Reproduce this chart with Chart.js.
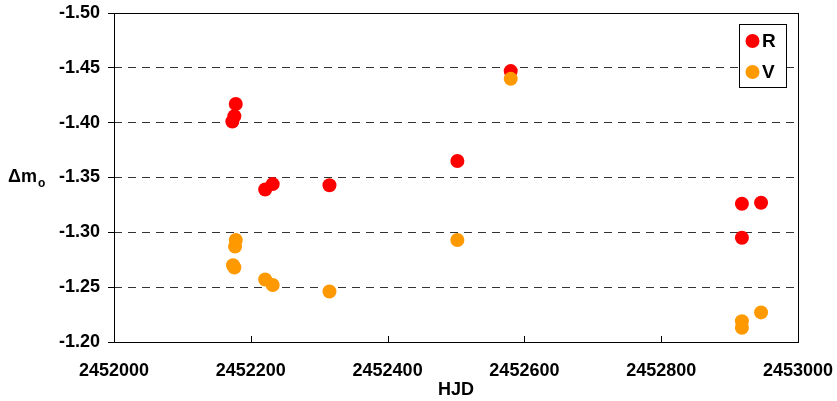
<!DOCTYPE html>
<html>
<head>
<meta charset="utf-8">
<script src="https://cdn.jsdelivr.net/npm/chart.js@4/dist/chart.umd.min.js"></script>
<style>
  html, body { margin: 0; padding: 0; background: #fff; }
  canvas { display: block; }
</style>
</head>
<body>
<canvas id="myChart" width="837" height="401"></canvas>
<script>
// HJD and magnitude for each band
const hjdR = [2452173, 2452176, 2452178, 2452221, 2452232, 2452315, 2452502, 2452580, 2452918, 2452946, 2452918];
const magR = [-1.401, -1.406, -1.417, -1.339, -1.344, -1.343, -1.365, -1.447, -1.326, -1.327, -1.295];
const hjdV = [2452174, 2452176, 2452177, 2452178, 2452221, 2452232, 2452315, 2452502, 2452580, 2452918, 2452918, 2452946];
const magV = [-1.270, -1.268, -1.287, -1.293, -1.257, -1.252, -1.246, -1.293, -1.440, -1.219, -1.213, -1.227];
const seriesNames = ['R', 'V'];
const seriesColors = ['rgb(255,0,0)', 'rgb(255,153,0)'];

const FONT = '"Liberation Sans", Arial, sans-serif';

function toPoints(xs, ys) {
   return xs.map((x, i) => ({ x: x, y: ys[i] }));
}

// frame, inside x tick marks, y axis title and boxed legend
const extras = {
   id: 'extras',
   afterDatasetsDraw(chart) {
      const ctx = chart.ctx;
      const a = chart.chartArea;
      const xs = chart.scales.x;
      ctx.save();
      ctx.strokeStyle = '#000';
      ctx.lineWidth = 1;
      ctx.beginPath();
      xs.ticks.forEach(t => {
         const px = Math.round(xs.getPixelForValue(t.value)) + 0.5;
         ctx.moveTo(px, a.bottom);
         ctx.lineTo(px, a.bottom - 6);
      });
      ctx.stroke();
      ctx.strokeRect(Math.round(a.left) + 0.5, Math.round(a.top) + 0.5,
         Math.round(a.right - a.left), Math.round(a.bottom - a.top));
      ctx.restore();
   },
   afterDraw(chart) {
      const ctx = chart.ctx;
      const ys = chart.scales.y;
      ctx.save();
      // y title
      const ty = ys.getPixelForValue(-1.35);
      ctx.fillStyle = '#000';
      ctx.textBaseline = 'middle';
      ctx.textAlign = 'left';
      ctx.font = 'bold 18px ' + FONT;
      ctx.fillText('\u0394m', 8, ty);
      const w = ctx.measureText('\u0394m').width;
      ctx.font = 'bold 12px ' + FONT;
      ctx.fillText('o', 8 + w + 1, ty + 6);

      // legend
      const bx = 739.5, by = 24.5, bw = 47, bh = 63;
      ctx.fillStyle = '#fff';
      ctx.fillRect(bx, by, bw, bh);
      ctx.strokeStyle = '#000';
      ctx.lineWidth = 1;
      ctx.strokeRect(bx, by, bw, bh);
      seriesNames.forEach((name, i) => {
         const cy = 41 + i * 31;
         ctx.fillStyle = seriesColors[i];
         ctx.beginPath();
         ctx.arc(752.5, cy, 7, 0, Math.PI * 2);
         ctx.fill();
         ctx.fillStyle = '#000';
         ctx.font = 'bold 19px ' + FONT;
         ctx.textAlign = 'left';
         ctx.textBaseline = 'middle';
         ctx.fillText(name, 762, cy + 1);
      });
      ctx.restore();
   }
};

var ctx = document.getElementById('myChart');
var myChart = new Chart(ctx, {
   type: 'scatter',
   data: {
      datasets: [
         {
            label: seriesNames[0],
            data: toPoints(hjdR, magR),
            backgroundColor: seriesColors[0],
            borderWidth: 0,
            pointRadius: 7,
            pointHoverRadius: 7,
            order: 1,
         },
         {
            label: seriesNames[1],
            data: toPoints(hjdV, magV),
            backgroundColor: seriesColors[1],
            borderWidth: 0,
            pointRadius: 7,
            pointHoverRadius: 7,
            order: 0,
         },
      ],
   },
   options: {
      responsive: false,
      animation: false,
      events: [],
      layout: {
         padding: { left: 0, right: 39, top: 13, bottom: 0 }
      },
      scales: {
         x: {
            type: 'linear',
            min: 2452000,
            max: 2453000,
            afterFit: function (scale) {
               scale.height = 59;
               scale.paddingLeft = 0;
               scale.paddingRight = 0;
            },
            ticks: {
               stepSize: 200,
               color: '#000',
               padding: 18,
               maxRotation: 0,
               font: { family: FONT, size: 18, weight: 'bold' },
               callback: v => String(v),
            },
            grid: { display: false, drawTicks: false },
            border: { display: false },
            title: {
               display: true,
               text: 'HJD',
               color: '#000',
               padding: { top: 0, bottom: 0 },
               font: { family: FONT, size: 18, weight: 'bold' },
            },
         },
         y: {
            reverse: true,
            min: -1.5,
            max: -1.2,
            afterFit: function (scale) {
               scale.width = 114;
               scale.paddingTop = 0;
               scale.paddingBottom = 0;
            },
            ticks: {
               stepSize: 0.05,
               color: '#000',
               padding: 8,
               font: { family: FONT, size: 18, weight: 'bold' },
               callback: v => v.toFixed(2),
            },
            grid: {
               color: '#333',
               lineWidth: 1,
               drawTicks: true,
               tickLength: 6,
               tickColor: '#000',
               tickBorderDash: [1, 0],
            },
            border: { display: false, dash: [8, 6] },
         },
      },
      plugins: {
         legend: { display: false },
         tooltip: { enabled: false },
      },
   },
   plugins: [extras],
});
</script>
</body>
</html>
